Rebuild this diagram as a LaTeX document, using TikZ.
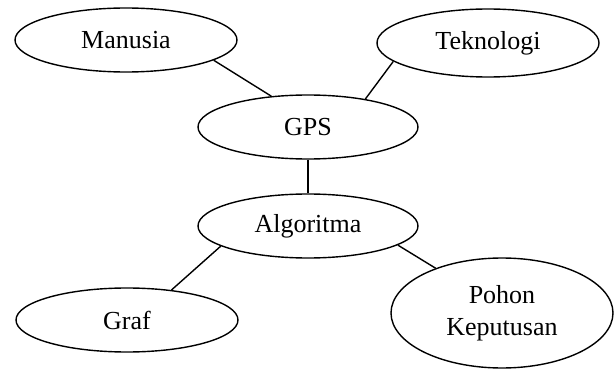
\documentclass[tikz,border=0pt]{standalone}
\usepackage{fontspec}
\setmainfont{Liberation Serif}
\usetikzlibrary{shapes.geometric}
\begin{document}
\begin{tikzpicture}[x=1pt,y=-1pt,
  oval/.style={draw, ellipse, line width=1.4pt, inner sep=0pt, minimum width=222pt, minimum height=64pt, font=\fontsize{26}{32}\selectfont, align=center},
  link/.style={line width=1.4pt}]
\useasboundingbox (0,0) rectangle (614,369);
\node[oval] (man) at (126,40) {Manusia};
\node[oval, minimum height=68pt] (tek) at (488,43) {Teknologi};
\node[oval, minimum width=220pt] (gps) at (308,127) {GPS};
\node[oval, minimum width=220pt] (alg) at (308,226) {Algoritma};
\node[oval] (graf) at (127,320) {Graf};
\node[oval, minimum height=110pt] (poh) at (502,313) {Pohon\\Keputusan};
\draw[link] (man.-13) -- (gps.140);
\draw[link] (tek.191) -- (gps.26);
\draw[link] (gps.south) -- (alg.north);
\draw[link] (alg.-167) -- (graf.34);
\draw[link] (alg.-12) -- (poh.146);
\end{tikzpicture}
\end{document}
